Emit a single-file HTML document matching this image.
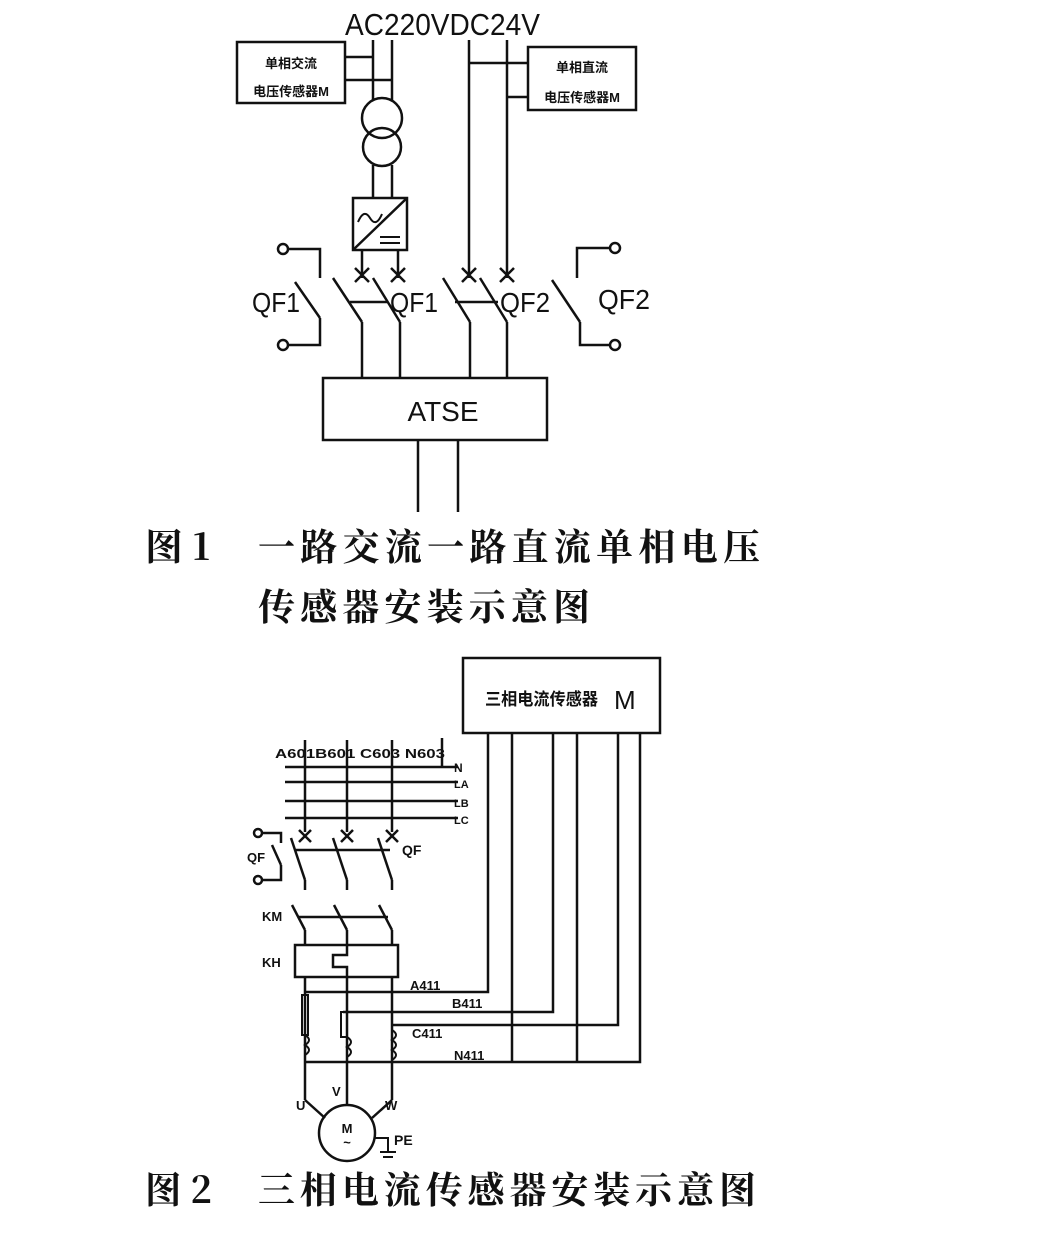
<!DOCTYPE html>
<html><head><meta charset="utf-8"><style>
html,body{margin:0;padding:0;background:#fff}
svg{display:block}
.cap{font-family:"Noto Serif CJK SC","Liberation Serif",serif;font-weight:700;font-size:37px;fill:#111}
.s{font-family:"Liberation Sans","Noto Sans CJK SC",sans-serif;fill:#111}
</style></head><body>
<svg width="1064" height="1244" viewBox="0 0 1064 1244" xmlns="http://www.w3.org/2000/svg">
<g stroke="#111" stroke-width="2.5" fill="none">
<rect x="237" y="42" width="108" height="61"/>
<rect x="528" y="47" width="108" height="63"/>
<line x1="373" y1="40" x2="373" y2="100"/><line x1="392" y1="40" x2="392" y2="100"/>
<line x1="345" y1="57" x2="373" y2="57"/><line x1="345" y1="80" x2="392" y2="80"/>
<circle cx="382" cy="118" r="20"/><circle cx="382" cy="147" r="19"/>
<line x1="373" y1="165" x2="373" y2="198"/><line x1="392" y1="165" x2="392" y2="198"/>
<rect x="353" y="198" width="54" height="52"/>
<line x1="353" y1="250" x2="407" y2="198"/>
<path d="M358 222 q6 -14 12 -4 q6 10 12 -4" stroke-width="2"/>
<line x1="380" y1="237" x2="400" y2="237" stroke-width="2"/><line x1="380" y1="243" x2="400" y2="243" stroke-width="2"/>
<line x1="362" y1="250" x2="362" y2="278"/><line x1="398" y1="250" x2="398" y2="278"/>
<line x1="469" y1="40" x2="469" y2="278"/><line x1="507" y1="40" x2="507" y2="278"/>
<line x1="469" y1="63" x2="528" y2="63"/><line x1="507" y1="97" x2="528" y2="97"/>
<g stroke-width="2.5">
<path d="M355 268 l14 14 M369 268 l-14 14"/><path d="M391 268 l14 14 M405 268 l-14 14"/>
<path d="M462 268 l14 14 M476 268 l-14 14"/><path d="M500 268 l14 14 M514 268 l-14 14"/>
</g>
<line x1="333" y1="278" x2="362" y2="322"/><line x1="362" y1="322" x2="362" y2="378"/>
<line x1="373" y1="278" x2="400" y2="322"/><line x1="400" y1="322" x2="400" y2="378"/>
<line x1="443" y1="278" x2="470" y2="322"/><line x1="470" y1="322" x2="470" y2="378"/>
<line x1="480" y1="278" x2="507" y2="322"/><line x1="507" y1="322" x2="507" y2="378"/>
<line x1="350" y1="302" x2="387" y2="302"/><line x1="455" y1="302" x2="498" y2="302"/>
<circle cx="283" cy="249" r="5"/><path d="M288 249 H320 V278"/>
<line x1="295" y1="282" x2="320" y2="318"/><path d="M320 318 V345 H288"/><circle cx="283" cy="345" r="5"/>
<circle cx="615" cy="248" r="5"/><path d="M610 248 H577 V278"/>
<line x1="552" y1="280" x2="580" y2="322"/><path d="M580 322 V345 H610"/><circle cx="615" cy="345" r="5"/>
<rect x="323" y="378" width="224" height="62"/>
<line x1="418" y1="440" x2="418" y2="512"/><line x1="458" y1="440" x2="458" y2="512"/>

<rect x="463" y="658" width="197" height="75"/>
<path d="M488 733 V992 H305"/>
<path d="M512 733 V1062"/>
<path d="M553 733 V1012 H343"/>
<path d="M577 733 V1062"/>
<path d="M618 733 V1025 H392"/>
<path d="M640 733 V1062 H305"/>
<line x1="285" y1="767" x2="458" y2="767"/><line x1="285" y1="782" x2="458" y2="782"/>
<line x1="285" y1="801" x2="458" y2="801"/><line x1="285" y1="818" x2="458" y2="818"/>
<line x1="442" y1="738" x2="442" y2="767"/>
<line x1="305" y1="740" x2="305" y2="832"/><line x1="347" y1="740" x2="347" y2="832"/><line x1="392" y1="740" x2="392" y2="832"/>
<path d="M299 830 l12 12 M311 830 l-12 12"/><path d="M341 830 l12 12 M353 830 l-12 12"/><path d="M386 830 l12 12 M398 830 l-12 12"/>
<line x1="291" y1="838" x2="305" y2="880"/><line x1="333" y1="838" x2="347" y2="880"/><line x1="378" y1="838" x2="392" y2="880"/>
<line x1="296" y1="850" x2="390" y2="850"/>
<line x1="305" y1="880" x2="305" y2="890"/><line x1="347" y1="880" x2="347" y2="890"/><line x1="392" y1="880" x2="392" y2="890"/>
<circle cx="258" cy="833" r="4"/><path d="M262 833 H281 V843"/><line x1="272" y1="845" x2="281" y2="865"/><path d="M281 865 V880 H262"/><circle cx="258" cy="880" r="4"/>
<line x1="292" y1="905" x2="305" y2="930"/><line x1="334" y1="905" x2="347" y2="930"/><line x1="379" y1="905" x2="392" y2="930"/>
<line x1="298" y1="917" x2="388" y2="917"/>
<line x1="305" y1="930" x2="305" y2="945"/><line x1="347" y1="930" x2="347" y2="945"/><line x1="392" y1="930" x2="392" y2="945"/>
<rect x="295" y="945" width="103" height="32"/>
<path d="M347 945 V955 H333 V967 H347 V977"/>
<line x1="305" y1="977" x2="305" y2="1100"/><line x1="347" y1="977" x2="347" y2="1105"/><line x1="392" y1="977" x2="392" y2="1100"/>
<rect x="302" y="995" width="6" height="40" stroke-width="2"/>
<path d="M305 1035 q8 5 0 10 q8 5 0 10" stroke-width="2"/>
<rect x="341" y="1012" width="6" height="25" stroke-width="2"/>
<path d="M347 1037 q8 5 0 10 q8 5 0 10" stroke-width="2"/>
<path d="M392 1030 q8 5 0 10 q8 5 0 10 q8 5 0 10" stroke-width="2"/>
<line x1="305" y1="1100" x2="325" y2="1118"/><line x1="392" y1="1100" x2="372" y2="1118"/>
<circle cx="347" cy="1133" r="28"/>
<path d="M375 1138 H388 V1152 M380 1152 H396 M383 1157 H393" stroke-width="2"/>
</g>
<text x="345" y="35" class="s" font-size="31" textLength="195" lengthAdjust="spacingAndGlyphs">AC220VDC24V</text>
<text x="291" y="68" class="s" font-size="13" font-weight="700" text-anchor="middle">单相交流</text>
<text x="291" y="96" class="s" font-size="13" font-weight="700" text-anchor="middle">电压传感器M</text>
<text x="582" y="72" class="s" font-size="13" font-weight="700" text-anchor="middle">单相直流</text>
<text x="582" y="102" class="s" font-size="13" font-weight="700" text-anchor="middle">电压传感器M</text>
<text x="252" y="312" class="s" font-size="28" textLength="48" lengthAdjust="spacingAndGlyphs">QF1</text>
<text x="390" y="312" class="s" font-size="28" textLength="48" lengthAdjust="spacingAndGlyphs">QF1</text>
<text x="500" y="312" class="s" font-size="28" textLength="50" lengthAdjust="spacingAndGlyphs">QF2</text>
<text x="598" y="309" class="s" font-size="28" textLength="52" lengthAdjust="spacingAndGlyphs">QF2</text>
<text x="443" y="421" class="s" font-size="28" text-anchor="middle">ATSE</text>
<text x="145" y="560" class="cap" textLength="65" lengthAdjust="spacingAndGlyphs">图 1</text>
<text x="258" y="560" class="cap" textLength="502" lengthAdjust="spacing">一路交流一路直流单相电压</text>
<text x="258" y="620" class="cap" textLength="332" lengthAdjust="spacing">传感器安装示意图</text>
<text x="485" y="705" class="s" font-size="17" font-weight="700" textLength="113" lengthAdjust="spacingAndGlyphs">三相电流传感器</text>
<text x="614" y="709" class="s" font-size="26">M</text>
<text x="275" y="758" class="s" font-size="13" font-weight="700" textLength="170" lengthAdjust="spacingAndGlyphs">A601B601 C603 N603</text>
<text x="454" y="772" class="s" font-size="12" font-weight="700">N</text>
<text x="454" y="788" class="s" font-size="11" font-weight="700">LA</text>
<text x="454" y="807" class="s" font-size="11" font-weight="700">LB</text>
<text x="454" y="824" class="s" font-size="11" font-weight="700">LC</text>
<text x="247" y="862" class="s" font-size="13" font-weight="700">QF</text>
<text x="402" y="855" class="s" font-size="14" font-weight="700">QF</text>
<text x="262" y="921" class="s" font-size="13" font-weight="700">KM</text>
<text x="262" y="967" class="s" font-size="13" font-weight="700">KH</text>
<text x="410" y="990" class="s" font-size="13" font-weight="700">A411</text>
<text x="452" y="1008" class="s" font-size="13" font-weight="700">B411</text>
<text x="412" y="1038" class="s" font-size="13" font-weight="700">C411</text>
<text x="454" y="1060" class="s" font-size="13" font-weight="700">N411</text>
<text x="296" y="1110" class="s" font-size="13" font-weight="700">U</text>
<text x="332" y="1096" class="s" font-size="13" font-weight="700">V</text>
<text x="385" y="1110" class="s" font-size="13" font-weight="700">W</text>
<text x="347" y="1133" class="s" font-size="13" font-weight="700" text-anchor="middle">M</text>
<text x="347" y="1147" class="s" font-size="13" font-weight="700" text-anchor="middle">~</text>
<text x="394" y="1145" class="s" font-size="14" font-weight="700">PE</text>
<text x="145" y="1203" class="cap" textLength="67" lengthAdjust="spacingAndGlyphs">图 2</text>
<text x="258" y="1203" class="cap" textLength="498" lengthAdjust="spacing">三相电流传感器安装示意图</text>
</svg>
</body></html>
